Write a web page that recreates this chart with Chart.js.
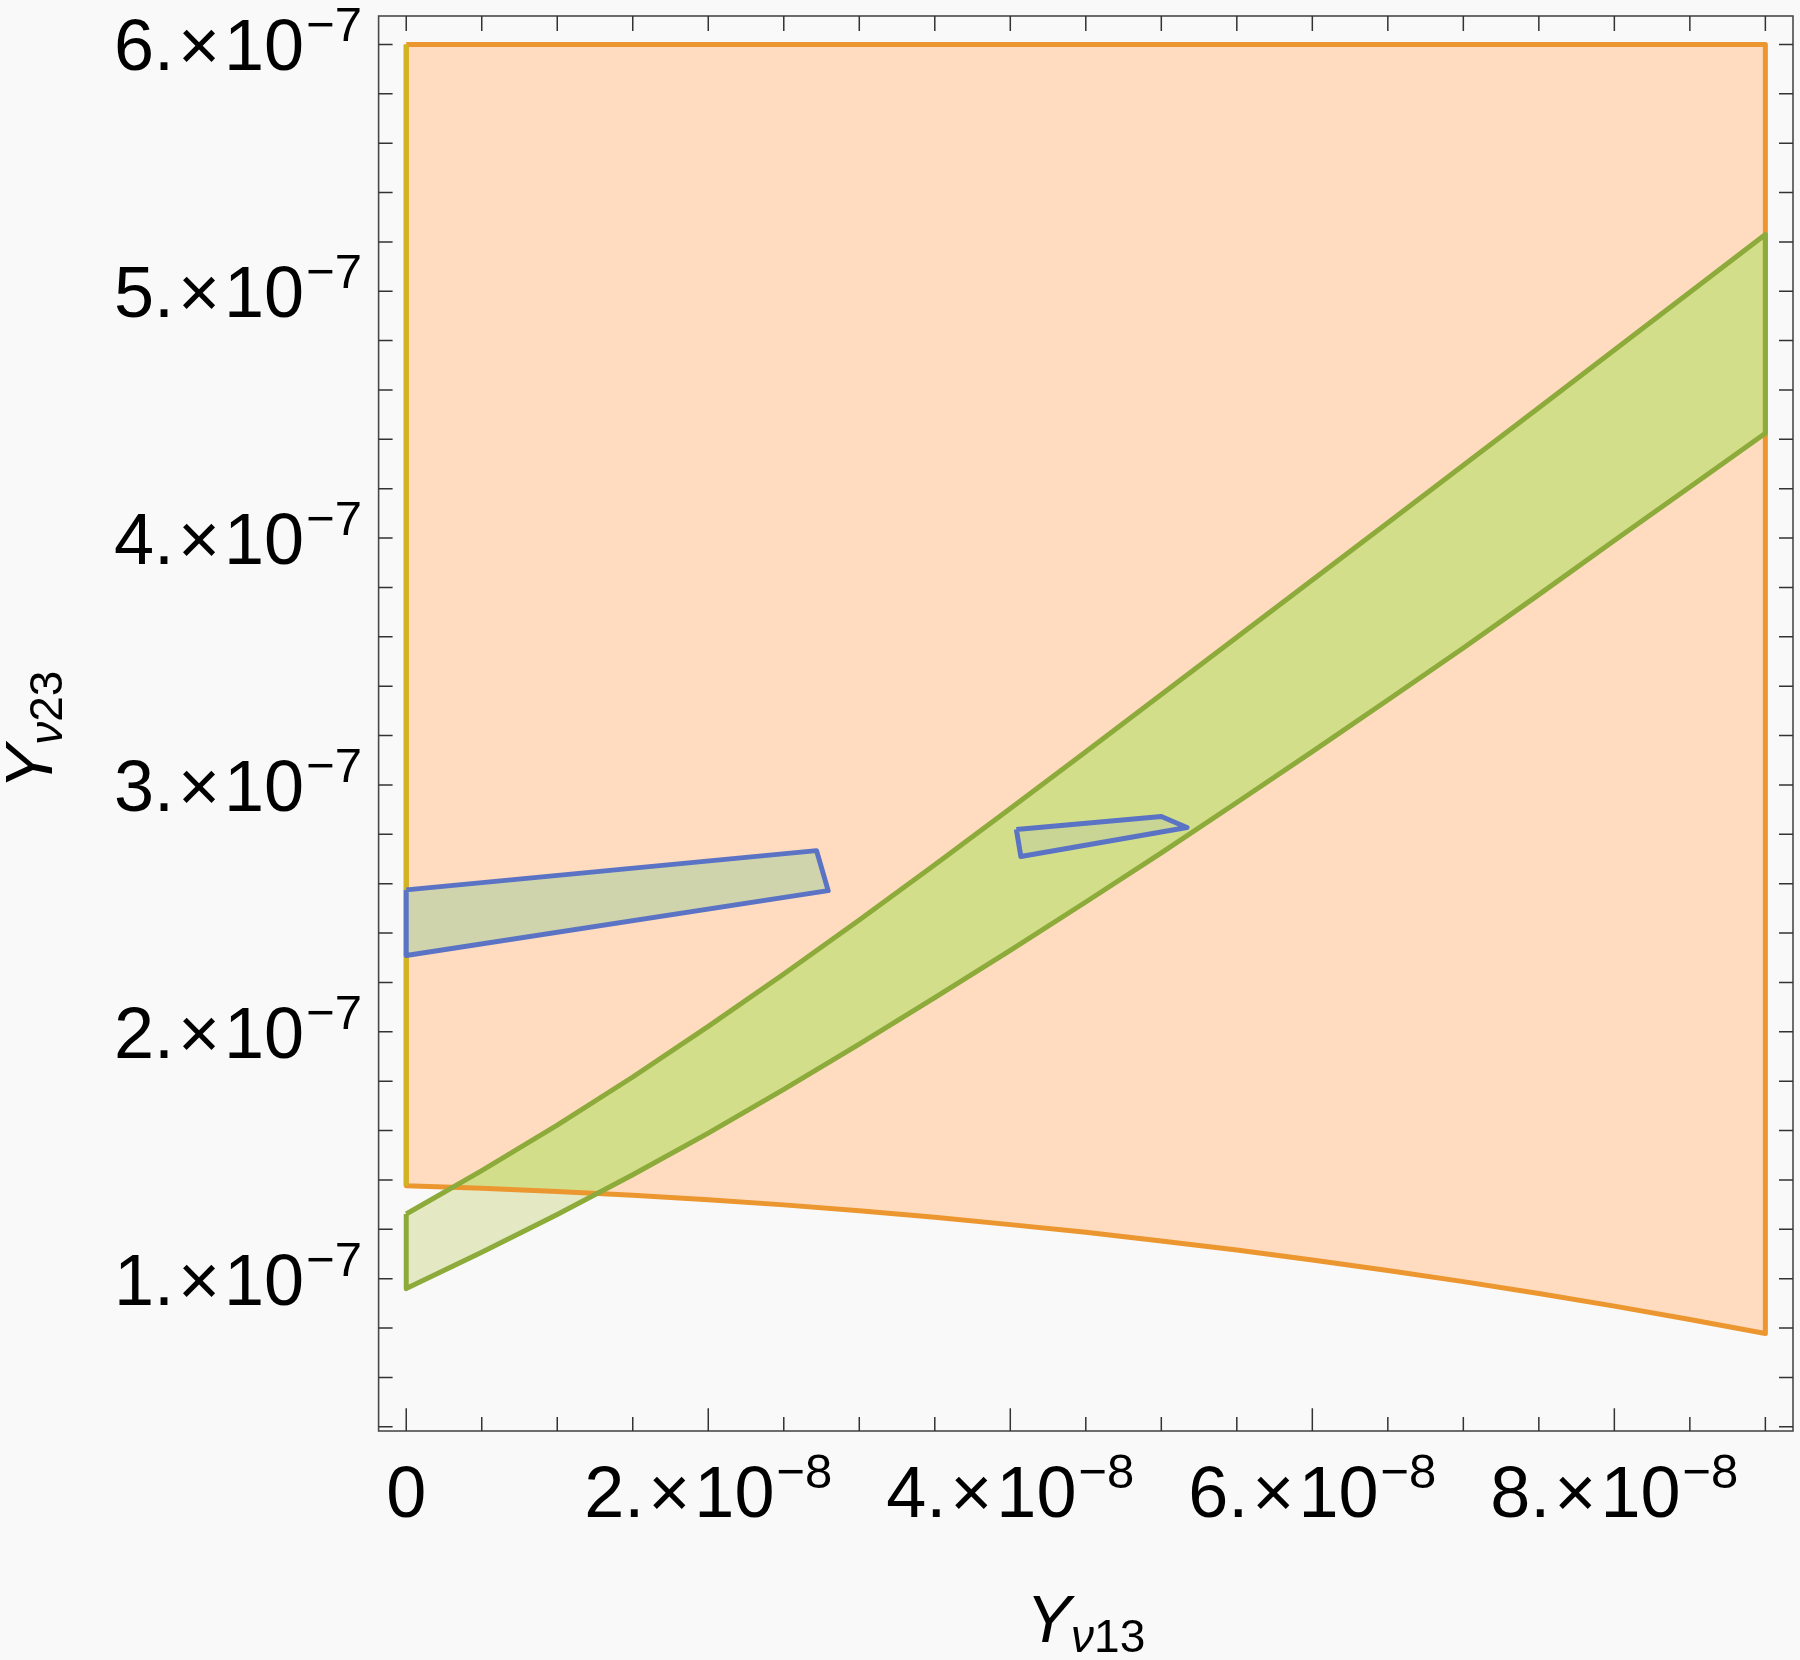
<!DOCTYPE html>
<html>
<head>
<meta charset="utf-8">
<script src="https://cdn.jsdelivr.net/npm/chart.js@4.4.0/dist/chart.umd.min.js"></script>
<style>
  html, body { margin: 0; padding: 0; background: #f9f9f9; }
  canvas { display: block; }
</style>
</head>
<body>
<canvas id="c" width="1800" height="1660"></canvas>
<script>
// ---------------- data ----------------
// common x grid for the curved boundaries (Y_ν13)
const xGrid = [0, 0.5e-8, 1e-8, 1.5e-8, 2e-8, 2.5e-8, 3e-8, 3.5e-8, 4e-8, 4.5e-8,
               5e-8, 5.5e-8, 6e-8, 6.5e-8, 7e-8, 7.5e-8, 8e-8, 8.5e-8, 9e-8];
// green band: upper and lower boundary (Y_ν23)
const greenUpper = [1.262e-7, 1.438e-7, 1.622e-7, 1.817e-7, 2.022e-7, 2.234e-7, 2.453e-7, 2.677e-7, 2.905e-7, 3.135e-7,
                    3.366e-7, 3.598e-7, 3.83e-7, 4.062e-7, 4.295e-7, 4.528e-7, 4.762e-7, 4.996e-7, 5.23e-7];
const greenLower = [0.96e-7, 1.107e-7, 1.26e-7, 1.421e-7, 1.59e-7, 1.767e-7, 1.95e-7, 2.139e-7, 2.33e-7, 2.526e-7,
                    2.725e-7, 2.929e-7, 3.135e-7, 3.344e-7, 3.555e-7, 3.771e-7, 3.99e-7, 4.207e-7, 4.425e-7];
// orange region: lower boundary and flat top
const orangeLower = [1.376e-7, 1.366e-7, 1.353e-7, 1.338e-7, 1.32e-7, 1.299e-7, 1.275e-7, 1.249e-7, 1.219e-7, 1.188e-7,
                     1.153e-7, 1.116e-7, 1.076e-7, 1.033e-7, 0.988e-7, 0.94e-7, 0.889e-7, 0.835e-7, 0.778e-7];
const orangeTop = 6e-7;
// blue regions (polygon vertices)
const blue1X = [0, 2.717e-8, 2.794e-8, 0];
const blue1Y = [2.575e-7, 2.734e-7, 2.572e-7, 2.309e-7];
const blue2X = [4.04e-8, 5.0e-8, 5.17e-8, 4.07e-8];
const blue2Y = [2.82e-7, 2.872e-7, 2.828e-7, 2.71e-7];
// axes
const xRange = [-0.183e-8, 9.183e-8];
const yRange = [0.383e-7, 6.115e-7];
const xMajorTicks = [0, 2e-8, 4e-8, 6e-8, 8e-8];
const xTickLabels = ['0', '2.×10^−8', '4.×10^−8', '6.×10^−8', '8.×10^−8'];
const xMinorTicks = [0, 0.5e-8, 1e-8, 1.5e-8, 2e-8, 2.5e-8, 3e-8, 3.5e-8, 4e-8, 4.5e-8,
                     5e-8, 5.5e-8, 6e-8, 6.5e-8, 7e-8, 7.5e-8, 8e-8, 8.5e-8, 9e-8];
const yMajorTicks = [1e-7, 2e-7, 3e-7, 4e-7, 5e-7, 6e-7];
const yTickLabels = ['1.×10^−7', '2.×10^−7', '3.×10^−7', '4.×10^−7', '5.×10^−7', '6.×10^−7'];
const yMinorTicks = [0.4e-7, 0.6e-7, 0.8e-7, 1e-7, 1.2e-7, 1.4e-7, 1.6e-7, 1.8e-7, 2e-7, 2.2e-7, 2.4e-7, 2.6e-7,
                     2.8e-7, 3e-7, 3.2e-7, 3.4e-7, 3.6e-7, 3.8e-7, 4e-7, 4.2e-7, 4.4e-7, 4.6e-7, 4.8e-7, 5e-7,
                     5.2e-7, 5.4e-7, 5.6e-7, 5.8e-7, 6e-7];
const xTitle = ['Y', 'ν', '13'];
const yTitle = ['Y', 'ν', '23'];

// ---------------- build point lists ----------------
const pts = (xs, ys) => xs.map((x, i) => ({ x: x, y: ys[i] }));
const closed = p => p.concat([p[0]]);
const upperPts = pts(xGrid, greenUpper);
const lowerPts = pts(xGrid, greenLower);
const orangeLowPts = pts(xGrid, orangeLower);
const bandPoly = closed(upperPts.concat(lowerPts.slice().reverse()));
const orangePoly = closed([{ x: xGrid[0], y: orangeTop }, { x: xGrid[xGrid.length - 1], y: orangeTop }]
  .concat(orangeLowPts.slice().reverse()));
const orangeLeft = [{ x: xGrid[0], y: orangeLower[0] }, { x: xGrid[0], y: orangeTop }];
const blue1Poly = closed(pts(blue1X, blue1Y));
const blue2Poly = closed(pts(blue2X, blue2Y));

const PEACH = '#ffdcbf';
const GREEN_ON_PEACH = '#d3de8b';
const GREEN_PALE = '#e4e9c4';
const GREEN_LINE = '#8dab3a';
const ORANGE_LINE = '#ec9630';
const GOLD_LINE = '#d2b322';
const BLUE_LINE = '#5b73c4';
const NONE = 'rgba(0,0,0,0)';
const LW = 5;

const base = { pointRadius: 0, pointHoverRadius: 0, tension: 0 };
const datasets = [
  // 0 green band outline (top)
  Object.assign({ data: bandPoly, borderColor: GREEN_LINE, borderWidth: LW, fill: false, order: 1, borderJoinStyle: 'round' }, base),
  // 1,2 blue regions
  Object.assign({ data: blue1Poly, borderColor: BLUE_LINE, borderWidth: LW, backgroundColor: '#d0d4ac', fill: 'shape', order: 2, borderJoinStyle: 'round' }, base),
  Object.assign({ data: blue2Poly, borderColor: BLUE_LINE, borderWidth: LW, backgroundColor: '#c8d594', fill: 'shape', order: 2, borderJoinStyle: 'round' }, base),
  // 3 gold left edge of orange region
  Object.assign({ data: orangeLeft, borderColor: GOLD_LINE, borderWidth: LW, fill: false, order: 3 }, base),
  // 4 orange outline
  Object.assign({ data: orangePoly, borderColor: ORANGE_LINE, borderWidth: LW, fill: false, order: 4, borderJoinStyle: 'round' }, base),
  // 5 restore peach between orange boundary and lower green edge (where lower edge is above)
  Object.assign({ data: lowerPts, borderColor: NONE, borderWidth: 0, backgroundColor: PEACH, fill: { target: 7, above: PEACH, below: NONE }, order: 7 }, base),
  // 6 green over peach between orange boundary and upper green edge
  Object.assign({ data: upperPts, borderColor: NONE, borderWidth: 0, backgroundColor: GREEN_ON_PEACH, fill: { target: 7, above: GREEN_ON_PEACH, below: NONE }, order: 8 }, base),
  // 7 orange lower boundary (fill target)
  Object.assign({ data: orangeLowPts, borderColor: NONE, borderWidth: 0, fill: false, order: 9 }, base),
  // 8 orange region fill
  Object.assign({ data: orangePoly, borderColor: NONE, borderWidth: 0, backgroundColor: PEACH, fill: 'shape', order: 10 }, base),
  // 9 green band pale fill (visible outside orange region)
  Object.assign({ data: bandPoly, borderColor: NONE, borderWidth: 0, backgroundColor: GREEN_PALE, fill: 'shape', order: 11 }, base)
];

// ---------------- text helpers ----------------
const FAM = '"Liberation Sans", Arial, sans-serif';
function drawSci(ctx, label, x, baseY, align) {
  const parts = label.split('^');
  const main = parts[0], exp = parts[1];
  const pieces = main.split('×');
  const mf = '72px ' + FAM, ef = '49px ' + FAM, gap = 4;
  ctx.font = mf;
  const widths = pieces.map(p => ctx.measureText(p).width);
  const tw = ctx.measureText('×').width;
  const baseW = widths.reduce((s, w) => s + w, 0) + (pieces.length > 1 ? tw + 2 * gap : 0);
  ctx.font = ef;
  const expW = exp ? ctx.measureText(exp).width + 2 : 0;
  const total = baseW + expW;
  let cx = align === 'center' ? x - total / 2 : (align === 'right' ? x - total : x);
  ctx.textAlign = 'left';
  ctx.textBaseline = 'alphabetic';
  ctx.font = mf;
  ctx.fillText(pieces[0], cx, baseY);
  cx += widths[0];
  if (pieces.length > 1) {
    cx += gap;
    ctx.fillText('×', cx, baseY);
    cx += tw + gap;
    ctx.fillText(pieces[1], cx, baseY);
    cx += widths[1];
  }
  if (exp) {
    ctx.font = ef;
    ctx.fillText(exp, cx + 2, baseY - 29);
  }
}
function drawTitle(ctx, parts, cx, baseY) {
  const f1 = 'italic 67px ' + FAM, f2 = 'italic 46px ' + FAM, f3 = '46px ' + FAM;
  ctx.textAlign = 'left';
  ctx.textBaseline = 'alphabetic';
  ctx.font = f1; const w1 = ctx.measureText(parts[0]).width;
  ctx.font = f2; const w2 = ctx.measureText(parts[1]).width;
  ctx.font = f3; const w3 = ctx.measureText(parts[2]).width;
  let x = cx - (w1 + w2 + w3) / 2;
  ctx.font = f1; ctx.fillText(parts[0], x, baseY); x += w1;
  ctx.font = f2; ctx.fillText(parts[1], x, baseY + 10); x += w2;
  ctx.font = f3; ctx.fillText(parts[2], x, baseY + 10);
}

const decor = {
  id: 'decor',
  beforeDraw(chart) {
    const ctx = chart.ctx;
    ctx.save();
    ctx.fillStyle = '#f9f9f9';
    ctx.fillRect(0, 0, chart.width, chart.height);
    ctx.restore();
  },
  afterDraw(chart) {
    const ctx = chart.ctx, a = chart.chartArea, xs = chart.scales.x, ys = chart.scales.y;
    ctx.save();
    // frame
    ctx.strokeStyle = '#4a4a4a';
    ctx.lineWidth = 1.6;
    ctx.strokeRect(a.left, a.top, a.right - a.left, a.bottom - a.top);
    // ticks
    ctx.strokeStyle = '#333';
    ctx.lineWidth = 1.5;
    ctx.beginPath();
    xMinorTicks.forEach(v => {
      const px = xs.getPixelForValue(v);
      const len = xMajorTicks.includes(v) ? 22.7 : 14;
      ctx.moveTo(px, a.bottom); ctx.lineTo(px, a.bottom - len);
      ctx.moveTo(px, a.top); ctx.lineTo(px, a.top + 15);
    });
    yMinorTicks.forEach(v => {
      const py = ys.getPixelForValue(v);
      ctx.moveTo(a.left, py); ctx.lineTo(a.left + 14, py);
      ctx.moveTo(a.right, py); ctx.lineTo(a.right - 14, py);
    });
    ctx.stroke();
    // tick labels
    ctx.fillStyle = '#000';
    xMajorTicks.forEach((v, i) => {
      drawSci(ctx, xTickLabels[i], xs.getPixelForValue(v), a.bottom + 85.7, 'center');
    });
    yMajorTicks.forEach((v, i) => {
      drawSci(ctx, yTickLabels[i], 362, ys.getPixelForValue(v) + 25.9, 'right');
    });
    // axis titles
    drawTitle(ctx, xTitle, (a.left + a.right) / 2, 1641.7);
    ctx.save();
    ctx.translate(52, 730);
    ctx.rotate(-Math.PI / 2);
    drawTitle(ctx, yTitle, 0, 0);
    ctx.restore();
    ctx.restore();
  }
};

new Chart(document.getElementById('c'), {
  type: 'line',
  data: { datasets: datasets },
  plugins: [decor],
  options: {
    responsive: false,
    devicePixelRatio: 1,
    animation: false,
    events: [],
    layout: { padding: { left: 0, right: 7, top: 16, bottom: 0 } },
    plugins: { legend: { display: false }, tooltip: { enabled: false }, filler: { propagate: false } },
    scales: {
      x: {
        type: 'linear', min: xRange[0], max: xRange[1],
        ticks: { display: false }, grid: { display: false }, border: { display: false },
        afterFit: s => { s.height = 229; }
      },
      y: {
        type: 'linear', min: yRange[0], max: yRange[1],
        ticks: { display: false }, grid: { display: false }, border: { display: false },
        afterFit: s => { s.width = 378.6; }
      }
    }
  }
});
</script>
</body>
</html>
